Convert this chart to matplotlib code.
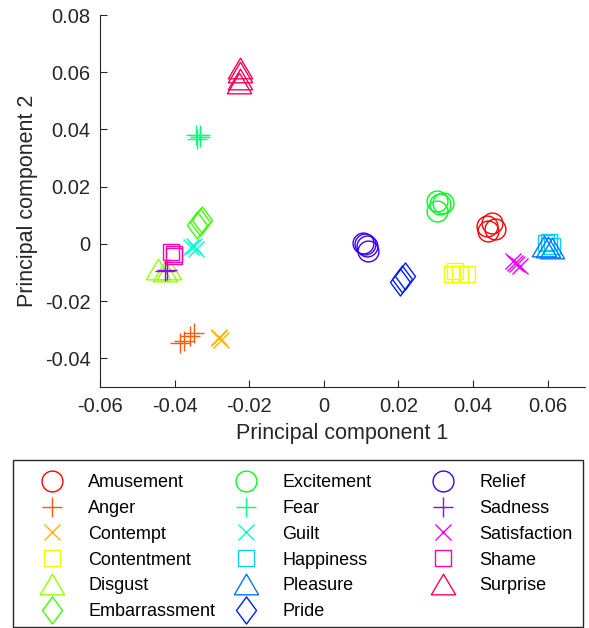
import matplotlib.pyplot as plt
from matplotlib.path import Path
from matplotlib.patches import Rectangle
import colorsys

plt.rcParams['font.family'] = ['Liberation Sans', 'DejaVu Sans']

emotions = ['Amusement', 'Anger', 'Contempt', 'Contentment', 'Disgust',
            'Embarrassment', 'Excitement', 'Fear', 'Guilt', 'Happiness',
            'Pleasure', 'Pride', 'Relief', 'Sadness', 'Satisfaction',
            'Shame', 'Surprise']

# principal component 1 (x) per emotion, a few repeats each
pc1 = [
    [0.0438, 0.0452, 0.0460, 0.0441],
    [-0.0376, -0.0360, -0.0347, -0.0387],
    [-0.0282, -0.0276, -0.0280],
    [0.0352, 0.0366, 0.0384, 0.0344],
    [-0.0446, -0.0425, -0.0414],
    [-0.0341, -0.0333, -0.0328],
    [0.0304, 0.0312, 0.0320, 0.0304],
    [-0.0344, -0.0333, -0.0339, -0.0331],
    [-0.0355, -0.0344, -0.0349],
    [0.0597, 0.0613, 0.0605],
    [0.0590, 0.0600, 0.0611],
    [0.0210, 0.0218, 0.0204],
    [0.0105, 0.0116, 0.0118, 0.0110],
    [-0.0427, -0.0422],
    [0.0508, 0.0519, 0.0527, 0.0513],
    [-0.0409, -0.0401, -0.0403],
    [-0.0224, -0.0226, -0.0224, -0.0227],
]

# principal component 2 (y)
pc2 = [
    [0.0063, 0.0074, 0.0053, 0.0046],
    [-0.0340, -0.0323, -0.0312, -0.0347],
    [-0.0330, -0.0337, -0.0326],
    [-0.0095, -0.0105, -0.0105, -0.0105],
    [-0.0088, -0.0095, -0.0088],
    [0.0067, 0.0077, 0.0084],
    [0.0151, 0.0140, 0.0144, 0.0116],
    [0.0382, 0.0372, 0.0368, 0.0379],
    [-0.0011, -0.0018, -0.0007],
    [0.0004, -0.0007, 0.0007],
    [-0.0007, -0.0010, -0.0014],
    [-0.0123, -0.0112, -0.0133],
    [0.0004, -0.0007, -0.0025, 0.0],
    [-0.0095, -0.0092],
    [-0.0060, -0.0070, -0.0077, -0.0067],
    [-0.0028, -0.0042, -0.0035],
    [0.0614, 0.0600, 0.0575, 0.0561],
]

# matlab-ish markers: wider diamond, flatter triangle
diamond = Path([(0, 1), (0.74, 0), (0, -1), (-0.74, 0), (0, 1)], closed=True)
triangle = Path([(0, 0.85), (1, -0.85), (-1, -0.85), (0, 0.85)], closed=True)
marker_cycle = ['o', '+', 'x', 's', triangle, diamond]
marker_size = [15, 15, 11, 11.5, 17.5, 19.5]

fig = plt.figure(figsize=(5.89, 6.28), dpi=100)
ax = fig.add_axes([0.170, 0.384, 0.823, 0.592])

handles = []
for i, name in enumerate(emotions):
    col = colorsys.hsv_to_rgb(i / 17, 1, 1)
    k = i % 6
    h, = ax.plot(pc1[i], pc2[i], linestyle='none', marker=marker_cycle[k],
                 mfc='none', mec=col, ms=marker_size[k], mew=1.0, label=name)
    handles.append(h)

ax.set_xlim(-0.06, 0.07)
ax.set_ylim(-0.05, 0.08)
ax.set_xticks([-0.06, -0.04, -0.02, 0, 0.02, 0.04, 0.06])
ax.set_xticklabels(['-0.06', '-0.04', '-0.02', '0', '0.02', '0.04', '0.06'])
ax.set_yticks([-0.04, -0.02, 0, 0.02, 0.04, 0.06, 0.08])
ax.set_yticklabels(['-0.04', '-0.02', '0', '0.02', '0.04', '0.06', '0.08'])
ax.tick_params(direction='in', length=5, labelsize=14.5, colors='#262626', pad=7)
for s in ['top', 'right']:
    ax.spines[s].set_visible(False)
for s in ['left', 'bottom']:
    ax.spines[s].set_color('#262626')
ax.set_xlabel('Principal component 1', fontsize=15.5, color='#262626', labelpad=5)
ax.set_ylabel('Principal component 2', fontsize=15.5, color='#262626', labelpad=5)

# legend: three equal columns inside one box
W, H = 589, 628
fig.patches.append(Rectangle((13 / W, 1 - 627 / H), 570 / W, 167 / H,
                             transform=fig.transFigure, fill=False,
                             edgecolor='#262626', lw=1.0))
col_x = [34, 228, 425]
for c in range(3):
    fig.legend(handles=handles[c * 6:(c + 1) * 6], loc='upper left',
               bbox_to_anchor=(col_x[c] / W, 1 - 474 / H), frameon=False,
               fontsize=13, numpoints=1, handlelength=2.0, handletextpad=1.0,
               labelspacing=0.49, borderpad=0, borderaxespad=0)

fig.savefig('out.png', dpi=100)
